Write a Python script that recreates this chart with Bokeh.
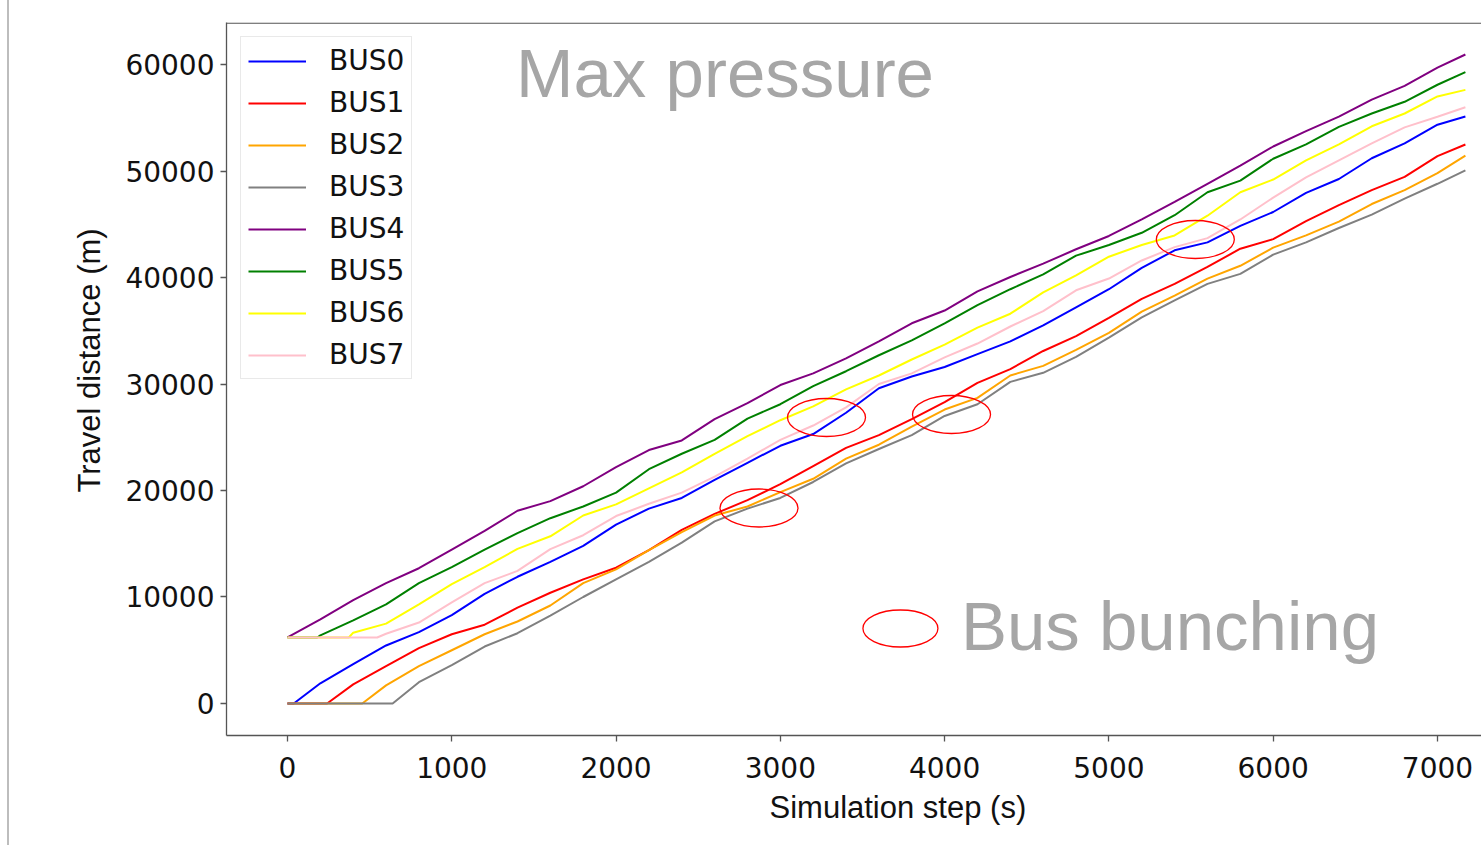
from bokeh.plotting import figure
from bokeh.models import (Range1d, Label, Span, Legend, LegendItem, Title,
                          FixedTicker, NumeralTickFormatter)
from bokeh.embed import file_html
from bokeh.resources import INLINE

# ---------------- data ----------------
steps = [0, 200, 400, 600, 800, 1000, 1200, 1400, 1600, 1800, 2000, 2200, 2400,
         2600, 2800, 3000, 3200, 3400, 3600, 3800, 4000, 4200, 4400, 4600, 4800,
         5000, 5200, 5400, 5600, 5800, 6000, 6200, 6400, 6600, 6800, 7000, 7170]

bus_names = ["BUS0", "BUS1", "BUS2", "BUS3", "BUS4", "BUS5", "BUS6", "BUS7"]
bus_colors = ["blue", "red", "orange", "gray", "purple", "green", "yellow", "pink"]
# time at which each bus leaves its starting point (s) and its starting distance (m)
depart_time = [38, 241, 455, 640, 0, 181, 373, 546]
start_dist = [0, 0, 0, 0, 6200, 6200, 6200, 6200]

bus0 = [0, 1900, 3700, 5450, 6700, 8300, 10300, 11900, 13300, 14800, 16800, 18300,
        19300, 21000, 22600, 24200, 25300, 27300, 29600, 30700, 31600, 32800, 34000,
        35500, 37200, 38900, 40900, 42550, 43300, 44850, 46150, 47950, 49250, 51200,
        52600, 54350, 55120]
bus1 = [0, 0, 1800, 3500, 5200, 6500, 7400, 9000, 10400, 11650, 12750, 14400, 16300,
        17800, 19100, 20600, 22300, 24000, 25200, 26700, 28300, 30100, 31400, 33100,
        34500, 36200, 38000, 39400, 41000, 42700, 43600, 45300, 46800, 48200, 49450,
        51400, 52490]
bus2 = [0, 0, 0, 1700, 3500, 5000, 6500, 7700, 9200, 11300, 12600, 14400, 16100,
        17650, 18500, 19850, 21100, 23000, 24300, 26000, 27600, 28700, 30800, 31700,
        33200, 34800, 36800, 38300, 39900, 41100, 42800, 43950, 45250, 46900, 48200,
        49800, 51450]
bus3 = [0, 0, 0, 0, 2000, 3600, 5350, 6600, 8250, 10000, 11650, 13300, 15100, 17100,
        18300, 19300, 20800, 22550, 23900, 25200, 27000, 28100, 30200, 31050, 32550,
        34350, 36250, 37850, 39400, 40340, 42150, 43300, 44650, 45900, 47400, 48800,
        50050]
bus4 = [6200, 7900, 9700, 11300, 12700, 14450, 16200, 18100, 19000, 20400, 22200,
        23800, 24700, 26700, 28200, 29900, 31000, 32400, 34000, 35700, 36900, 38700,
        40050, 41300, 42650, 43900, 45450, 47100, 48800, 50500, 52300, 53750, 55100,
        56700, 58000, 59700, 60940]
bus5 = [6200, 6400, 7800, 9300, 11300, 12800, 14450, 16000, 17400, 18500, 19800,
        22000, 23450, 24750, 26750, 28100, 29800, 31200, 32700, 34100, 35700, 37400,
        38900, 40300, 42050, 43050, 44200, 45850, 48000, 49100, 51150, 52500, 54150,
        55400, 56500, 58100, 59280]
bus6 = [6200, 6200, 6650, 7500, 9300, 11200, 12800, 14520, 15700, 17650, 18700,
        20200, 21700, 23450, 25100, 26600, 27900, 29500, 30800, 32300, 33700, 35300,
        36600, 38600, 40200, 41950, 43050, 43950, 45800, 48000, 49200, 51000, 52500,
        54200, 55400, 57000, 57620]
bus7 = [6200, 6200, 6200, 6550, 7600, 9500, 11300, 12450, 14500, 15800, 17600,
        18750, 19800, 21300, 23000, 24750, 26100, 27800, 30000, 31000, 32500, 33800,
        35400, 36850, 38800, 39900, 41600, 42850, 43700, 45450, 47500, 49400, 51000,
        52600, 54100, 55100, 55990]
bus_series = [bus0, bus1, bus2, bus3, bus4, bus5, bus6, bus7]

x_ticks = [0, 1000, 2000, 3000, 4000, 5000, 6000, 7000]
y_ticks = [0, 10000, 20000, 30000, 40000, 50000, 60000]

# bus-bunching markers (step, distance)
bunch_x = [2870, 3281, 4042, 5526]
bunch_y = [18357, 26854, 27136, 43568]
key_x = [3731]
key_y = [7042]

# ---------------- figure ----------------
p = figure(width=1481, height=845, output_backend="svg", toolbar_location=None,
           title=None,
           x_range=Range1d(-371.3, 7268), y_range=Range1d(-3005, 63944),
           min_border_left=226, min_border_right=0, min_border_top=22,
           min_border_bottom=110)
p.grid.visible = False
p.outline_line_color = None
p.background_fill_color = "white"
p.border_fill_color = None
# slide edge line at the far left of the picture
p.styles = {"background": "linear-gradient(to right, white 0px, white 7px, #bdbdbd 7px, "
                          "#bdbdbd 9px, white 9px, white 100%)"}

for ax in (p.xaxis, p.yaxis):
    ax.axis_line_color = "#555555"
    ax.axis_line_width = 1.3
    ax.major_tick_line_color = "#555555"
    ax.major_tick_line_width = 1.3
    ax.major_tick_in = 0
    ax.major_tick_out = 6
    ax.minor_tick_line_color = None
    ax.major_label_text_font = "DejaVu Sans"
    ax.major_label_text_font_size = "28px"
    ax.major_label_text_color = "#111111"
    ax.formatter = NumeralTickFormatter(format="0")
p.xaxis.ticker = FixedTicker(ticks=x_ticks)
p.yaxis.ticker = FixedTicker(ticks=y_ticks)
p.xaxis.major_label_standoff = 15
p.yaxis.major_label_standoff = 6

# top frame border (right side of frame is outside the picture)
p.add_layout(Span(location=63944 - 60, dimension="width", line_color="#555555",
                  line_width=1.3))

items = []
for name, col, dep, base, vals in zip(bus_names, bus_colors, depart_time, start_dist,
                                      bus_series):
    xs = [0]
    ys = [base]
    if dep > 0:
        xs.append(dep)
        ys.append(base)
    for s, v in zip(steps, vals):
        if s > dep:
            xs.append(s)
            ys.append(v)
    r = p.line(xs, ys, line_color=col, line_width=2.0)
    items.append(LegendItem(label=name, renderers=[r]))

legend = Legend(items=items, location="top_left", margin=14, padding=7, spacing=9,
                glyph_width=58, glyph_height=30, label_height=30, label_standoff=23,
                label_text_font="DejaVu Sans", label_text_font_size="28px",
                label_text_color="#111111",
                border_line_color="#d4d4d4", border_line_width=1,
                background_fill_color="white", background_fill_alpha=0.85)
p.add_layout(legend)

# red ellipses marking bus bunching
p.ellipse(x=bunch_x, y=bunch_y, width=78, height=38, width_units="screen",
          height_units="screen", fill_color=None, line_color="red", line_width=1.3)
p.ellipse(x=key_x, y=key_y, width=75, height=37, width_units="screen",
          height_units="screen", fill_color=None, line_color="red", line_width=1.3)

p.add_layout(Label(x=1391, y=59200, text="Max pressure", text_font="Liberation Sans",
                   text_font_size="69px", text_color="#a6a6a6",
                   text_baseline="alphabetic"))
p.add_layout(Label(x=4099, y=7250, text="Bus bunching", text_font="Liberation Sans",
                   text_font_size="69px", text_color="#a6a6a6",
                   text_baseline="alphabetic"))

# axis titles (placed as side titles so they can be offset like the reference)
p.add_layout(Title(text="Simulation step (s)", align="left", offset=543,
                   text_font="Liberation Sans", text_font_size="31px",
                   text_font_style="normal", text_color="#111111",
                   text_baseline="top", standoff=14), "below")
p.add_layout(Title(text="Travel distance (m)", align="left", offset=243,
                   text_font="Liberation Sans", text_font_size="31px",
                   text_font_style="normal", text_color="#111111",
                   standoff=31), "left")

open("out.html", "w").write(file_html(p, INLINE))
